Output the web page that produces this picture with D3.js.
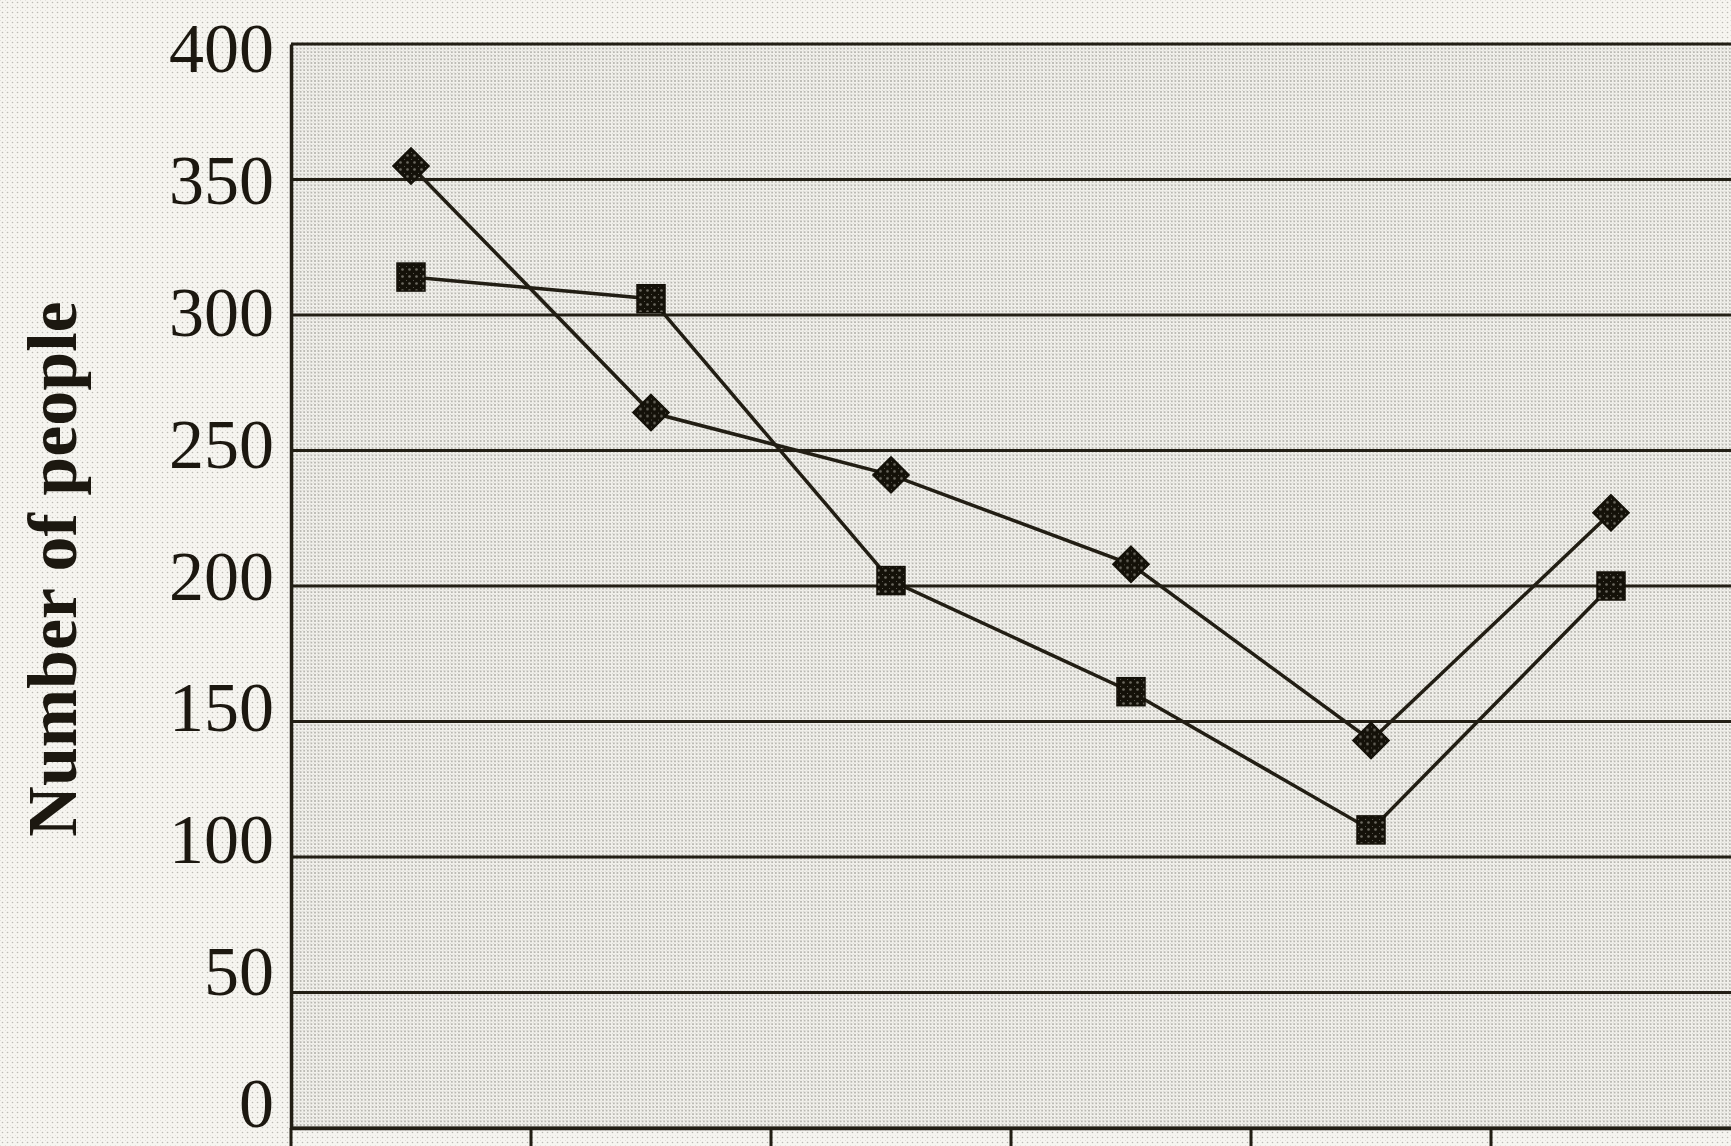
<!DOCTYPE html>
<html>
<head>
<meta charset="utf-8">
<script src="https://cdn.jsdelivr.net/npm/d3@7"></script>
<style>
  html, body { margin: 0; padding: 0; background: #f3f2ed; }
  svg { display: block; }
</style>
</head>
<body>
<svg></svg>
<script>
const width = 1731;
const height = 1146;
const margin = { top: 44, right: 0, bottom: 18, left: 291 };

// Data (x labels fall below the cropped edge)
const categories = ["1", "2", "3", "4", "5", "6"];
const seriesDiamond = [355, 264, 241, 208, 143, 227];
const seriesSquare = [314, 306, 202, 161, 110, 200];
const yTicks = [0, 50, 100, 150, 200, 250, 300, 350, 400];
const yTitle = "Number of people";

const svg = d3.select("svg")
    .attr("width", width)
    .attr("height", height);

// stipple textures, like the halftone scan
const defs = svg.append("defs");
const dots = (id, bg, dot, step, r) => {
    const p = defs.append("pattern")
        .attr("id", id)
        .attr("patternUnits", "userSpaceOnUse")
        .attr("width", step).attr("height", step);
    p.append("rect").attr("width", step).attr("height", step).attr("fill", bg);
    p.append("circle").attr("cx", step / 2).attr("cy", step / 2).attr("r", r).attr("fill", dot);
    p.append("circle").attr("cx", 0).attr("cy", 0).attr("r", r * 0.8).attr("fill", dot);
};
dots("paper", "#f6f5f0", "#bdbcb6", 5, 0.8);
dots("plot", "#f2f1ec", "#a09f99", 3.6, 0.85);
dots("mark", "#141109", "#6e6b62", 7, 1.3);

svg.append("rect").attr("width", width).attr("height", height).attr("fill", "url(#paper)");

const x = d3.scaleBand()
    .domain(categories)
    .range([margin.left, width - margin.right]);

const y = d3.scaleLinear()
    .domain([0, 400])
    .range([height - margin.bottom, margin.top]);

// the scanned labels sit a touch tighter than the gridlines
const yLabel = d3.scaleLinear()
    .domain([0, 400])
    .range([height - 42, 49]);

// plot background
svg.append("rect")
    .attr("x", margin.left)
    .attr("y", y(400))
    .attr("width", width - margin.left)
    .attr("height", y(0) - y(400))
    .attr("fill", "url(#plot)");

const ink = "#221e14";

// gridlines
svg.append("g")
    .selectAll("line")
    .data(yTicks)
    .join("line")
    .attr("x1", margin.left)
    .attr("x2", width)
    .attr("y1", d => y(d))
    .attr("y2", d => y(d))
    .attr("stroke", ink)
    .attr("stroke-width", 3.2);

// y axis line
const yAxis = svg.append("g")
    .attr("transform", `translate(${margin.left},0)`)
    .call(d3.axisLeft(y).tickValues(yTicks).tickSize(0).tickFormat(""));
yAxis.select(".domain").attr("stroke", ink).attr("stroke-width", 3.5);

// y tick labels
svg.append("g")
    .selectAll("text")
    .data(yTicks)
    .join("text")
    .attr("x", margin.left - 17)
    .attr("y", d => yLabel(d))
    .attr("dy", "0.33em")
    .attr("text-anchor", "end")
    .attr("font-family", "Liberation Serif, Times New Roman, serif")
    .attr("font-size", 70)
    .attr("fill", "#1c1810")
    .text(d => d);

// x axis: only the band dividers show, labels are cut off
const xAxis = svg.append("g")
    .attr("transform", `translate(0,${y(0)})`)
    .call(d3.axisBottom(x).tickSize(0));
xAxis.select(".domain").attr("stroke", ink).attr("stroke-width", 3.5);
xAxis.selectAll("text").remove();
svg.append("g")
    .selectAll("line")
    .data(categories)
    .join("line")
    .attr("x1", d => x(d))
    .attr("x2", d => x(d))
    .attr("y1", y(0))
    .attr("y2", height)
    .attr("stroke", ink)
    .attr("stroke-width", 3);

// y title
svg.append("text")
    .attr("transform", `translate(76,569) rotate(-90)`)
    .attr("text-anchor", "middle")
    .attr("font-family", "Liberation Serif, Times New Roman, serif")
    .attr("font-weight", "bold")
    .attr("font-size", 70)
    .attr("fill", "#1c1810")
    .text(yTitle);

// lines
const line = d3.line()
    .x((d, i) => x(categories[i]) + x.bandwidth() / 2)
    .y(d => y(d));

[seriesDiamond, seriesSquare].forEach(s => {
    svg.append("path")
        .attr("d", line(s))
        .attr("fill", "none")
        .attr("stroke", ink)
        .attr("stroke-width", 3.5);
});

// markers
svg.append("g")
    .selectAll("path")
    .data(seriesDiamond)
    .join("path")
    .attr("transform", (d, i) => `translate(${x(categories[i]) + x.bandwidth() / 2},${y(d)})`)
    .attr("d", d3.symbol(d3.symbolDiamond2, 840))
    .attr("fill", "url(#mark)")
    .attr("stroke", "#141109")
    .attr("stroke-width", 1.5);

svg.append("g")
    .selectAll("rect")
    .data(seriesSquare)
    .join("rect")
    .attr("x", (d, i) => x(categories[i]) + x.bandwidth() / 2 - 14)
    .attr("y", d => y(d) - 14)
    .attr("width", 28)
    .attr("height", 28)
    .attr("fill", "url(#mark)")
    .attr("stroke", "#141109")
    .attr("stroke-width", 1.5);
</script>
</body>
</html>
